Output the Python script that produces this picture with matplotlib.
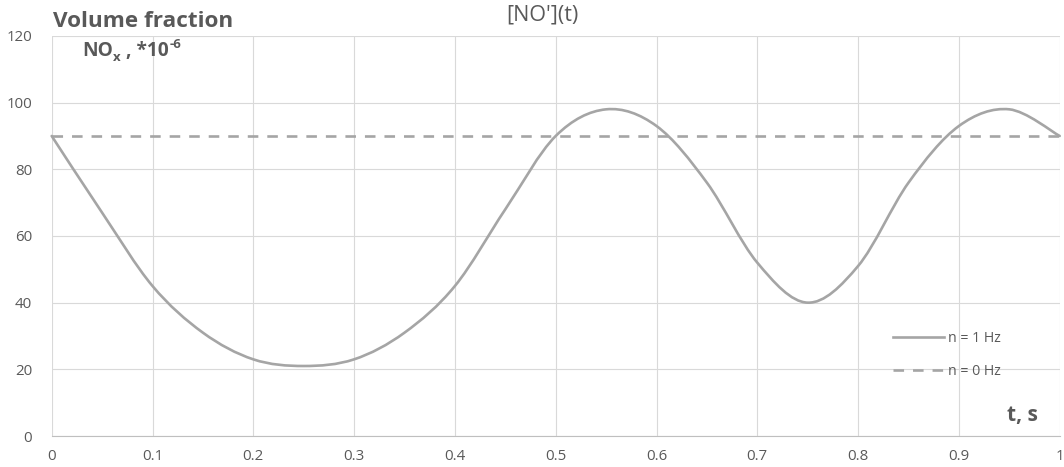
import matplotlib
matplotlib.use("Agg")
import matplotlib.pyplot as plt
import numpy as np
from matplotlib.path import Path
from matplotlib.patches import PathPatch
from matplotlib.lines import Line2D
from matplotlib.transforms import offset_copy

# --- data ---
t_values = [0.0, 0.05, 0.1, 0.15, 0.2, 0.25, 0.3, 0.35, 0.4, 0.45, 0.5,
            0.55, 0.6, 0.65, 0.7, 0.75, 0.8, 0.85, 0.9, 0.95, 1.0]
no_1hz = [90, 67, 45, 31, 23, 21, 23, 31, 45, 68, 90,
          98, 93, 76, 52, 40, 51, 76, 93, 98, 90]
t_const = [0.0, 1.0]
no_0hz = [90, 90]

x_ticks = [0, 0.1, 0.2, 0.3, 0.4, 0.5, 0.6, 0.7, 0.8, 0.9, 1]
x_tick_labels = ['0', '0.1', '0.2', '0.3', '0.4', '0.5', '0.6', '0.7', '0.8', '0.9', '1']
y_ticks = [0, 20, 40, 60, 80, 100, 120]

LINE_COLOR = '#a5a5a5'
TEXT_COLOR = '#595959'
GRID_COLOR = '#d9d9d9'
DASH = (0, (4.0, 3.4))

plt.rcParams['font.family'] = ['Open Sans', 'DejaVu Sans']


def smooth_path(xs, ys):
    """Excel-like smoothed line: cubic bezier segments through every point."""
    pts = np.column_stack([xs, ys]).astype(float)
    n = len(pts)
    verts = [pts[0]]
    codes = [Path.MOVETO]
    for i in range(n - 1):
        p0 = pts[i - 1] if i > 0 else pts[i]
        p1 = pts[i]
        p2 = pts[i + 1]
        p3 = pts[i + 2] if i + 2 < n else pts[i + 1]
        c1 = p1 + (p2 - p0) / 6.0
        c2 = p2 - (p3 - p1) / 6.0
        verts += [c1, c2, p2]
        codes += [Path.CURVE4] * 3
    return Path(verts, codes)


W, H = 1064, 467
fig = plt.figure(figsize=(W / 100, H / 100), dpi=100)
left, right, top, bottom = 51.7, 1059.7, 36, 436
ax = fig.add_axes([left / W, (H - bottom) / H, (right - left) / W, (bottom - top) / H])

ax.set_xlim(0, 1)
ax.set_ylim(0, 120)
ax.set_xticks(x_ticks)
ax.set_xticklabels(x_tick_labels)
ax.set_yticks(y_ticks)
ax.grid(True, color=GRID_COLOR, linewidth=0.8)
ax.set_axisbelow(True)
for side in ['top', 'right', 'left']:
    ax.spines[side].set_visible(False)
ax.spines['bottom'].set_color('#bfbfbf')
ax.spines['bottom'].set_linewidth(0.8)
ax.tick_params(length=0, labelsize=10.8, labelcolor=TEXT_COLOR, pad=9)
ax.tick_params(axis='y', pad=14)

# smoothed 1 Hz curve
patch = PathPatch(smooth_path(t_values, no_1hz), facecolor='none',
                  edgecolor=LINE_COLOR, linewidth=1.9, capstyle='round',
                  joinstyle='round', zorder=3, clip_on=False)
ax.add_patch(patch)

# constant 0 Hz level
ax.plot(t_const, no_0hz, color=LINE_COLOR, linewidth=1.9,
        linestyle=DASH, zorder=3, clip_on=False)

legend_elements = [
    Line2D([0], [0], color=LINE_COLOR, linewidth=1.9, label='n = 1 Hz'),
    Line2D([0], [0], color=LINE_COLOR, linewidth=1.9, linestyle=DASH, label='n = 0 Hz'),
]
leg = ax.legend(handles=legend_elements, loc='upper left',
                bbox_to_anchor=(893 / W, (H - 331) / H),
                bbox_transform=fig.transFigure, frameon=False,
                handlelength=3.6, handletextpad=0.3, labelspacing=1.3,
                fontsize=10.2, borderaxespad=0, borderpad=0)
for txt in leg.get_texts():
    txt.set_color(TEXT_COLOR)

# annotations
fig.text(542 / W, 1 - 15 / H, "[NO'](t)", ha='center', va='center',
         fontsize=15.5, color=TEXT_COLOR)
fig.text(53 / W, 1 - 27 / H, 'Volume fraction', ha='left', va='baseline',
         fontsize=16.2, fontweight='bold', color=TEXT_COLOR)
fig.text(1038 / W, 1 - 415 / H, 't, s', ha='right', va='center',
         fontsize=15, fontweight='bold', color=TEXT_COLOR)

# NO_x , *10^-6 built from pieces (subscript / superscript)
renderer = fig.canvas.get_renderer()
pieces = [('NO', 13.8, 0), ('x', 9.5, -5), (' , *10', 13.8, 0), ('-6', 9.5, 8)]
x_px = 82
for s, size, dy in pieces:
    t = fig.text(x_px / W, 1 - 56 / H, s, ha='left', va='baseline',
                 fontsize=size, fontweight='bold', color=TEXT_COLOR,
                 transform=offset_copy(fig.transFigure, fig=fig, x=0, y=dy, units='dots'))
    x_px = t.get_window_extent(renderer).x1 + 0.5

fig.savefig('out.png', dpi=100)
